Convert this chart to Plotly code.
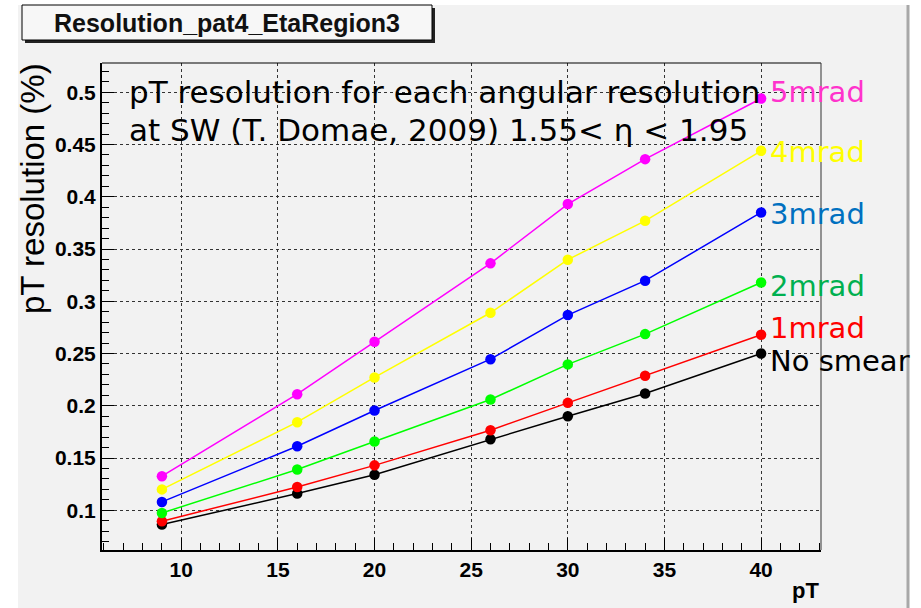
import plotly.graph_objects as go

# pT points and resolution (%) for each angular smearing
pt = [9, 16, 20, 26, 30, 34, 40]
res_nosmear = [0.0863, 0.116, 0.134, 0.168, 0.190, 0.2118, 0.250]
res_1mrad = [0.0895, 0.1223, 0.143, 0.1766, 0.2028, 0.2287, 0.268]
res_2mrad = [0.0974, 0.139, 0.1658, 0.206, 0.2396, 0.2686, 0.318]
res_3mrad = [0.108, 0.1613, 0.1955, 0.2446, 0.2868, 0.3197, 0.385]
res_4mrad = [0.120, 0.1843, 0.2271, 0.289, 0.3398, 0.377, 0.444]
res_5mrad = [0.1326, 0.2111, 0.2612, 0.3363, 0.393, 0.436, 0.494]

series_names = ["No smear", "1mrad", "2mrad", "3mrad", "4mrad", "5mrad"]
series_values = [res_nosmear, res_1mrad, res_2mrad, res_3mrad, res_4mrad, res_5mrad]
line_colors = ["#000000", "#ff0000", "#00ff00", "#0000ff", "#ffff00", "#ff00ff"]
label_colors = ["#000000", "#ff0000", "#00b050", "#0070c0", "#ffff00", "#ff33cc"]
label_baselines = [371, 338, 296, 224, 162, 102]

x_ticks = [10, 15, 20, 25, 30, 35, 40]
y_ticks = [0.1, 0.15, 0.2, 0.25, 0.3, 0.35, 0.4, 0.45, 0.5]
y_ticktext = ["0.1", "0.15", "0.2", "0.25", "0.3", "0.35", "0.4", "0.45", "0.5"]

# frame geometry in pixels
FIG_W, FIG_H = 921, 608
L, T, W, H = 102, 63, 719, 487


def px(x):
    return (x - L) / W


def py(y):
    return (T + H - y) / H


fig = go.Figure()
for name, vals, col in zip(series_names, series_values, line_colors):
    fig.add_trace(go.Scatter(
        x=pt, y=vals, name=name, mode="lines+markers",
        line=dict(color=col, width=1.5),
        marker=dict(size=10.5, color=col),
        showlegend=False,
    ))

tick_font = dict(family="Liberation Sans", size=21, color="black", weight="bold")
axis_common = dict(
    ticks="inside", ticklen=12, tickwidth=1, tickcolor="black",
    showline=True, linewidth=2, linecolor="black",
    showgrid=True, gridcolor="#333333", griddash="dot", gridwidth=1,
    zeroline=False, tickfont=tick_font,
)

fig.update_layout(
    width=FIG_W, height=FIG_H,
    margin=dict(l=L, r=FIG_W - L - W, t=T, b=FIG_H - T - H),
    paper_bgcolor="white", plot_bgcolor="#f2f2f2",
    xaxis=dict(range=[5.9, 43.1], tickvals=x_ticks,
               minor=dict(dtick=1, tick0=0, ticks="inside", ticklen=7,
                          tickcolor="black", showgrid=False),
               **axis_common),
    yaxis=dict(range=[0.062, 0.528], tickvals=y_ticks, ticktext=y_ticktext,
               minor=dict(dtick=0.01, tick0=0.1, ticks="inside", ticklen=7,
                          tickcolor="black", showgrid=False),
               **axis_common),
)

shapes = [
    # pad background
    dict(type="rect", xref="paper", yref="paper", layer="below",
         x0=px(18), x1=px(907), y0=py(5), y1=py(FIG_H + 5),
         fillcolor="#f2f2f2", line=dict(width=0)),
    # pad right border
    dict(type="line", xref="paper", yref="paper",
         x0=px(908), x1=px(908), y0=py(5), y1=py(FIG_H + 5),
         line=dict(color="#a8a8a8", width=3)),
    # frame top and right
    dict(type="line", xref="paper", yref="paper",
         x0=0, x1=1, y0=1, y1=1, line=dict(color="black", width=1)),
    dict(type="line", xref="paper", yref="paper",
         x0=1, x1=1, y0=0, y1=1, line=dict(color="#333333", width=1)),
    # title box shadow and box
    dict(type="rect", xref="paper", yref="paper",
         x0=px(25), x1=px(435), y0=py(43), y1=py(8),
         fillcolor="#222222", line=dict(width=0)),
    dict(type="rect", xref="paper", yref="paper",
         x0=px(22), x1=px(432), y0=py(40), y1=py(5),
         fillcolor="#f7f7f7", line=dict(color="black", width=1)),
]
fig.update_layout(shapes=shapes)

text_font = dict(family="DejaVu Sans", size=31, color="black")
annotations = [
    dict(text="Resolution_pat4_EtaRegion3", x=px(227), y=py(23),
         font=dict(family="Liberation Sans", size=25, color="#111111", weight="bold")),
    dict(text="pT resolution (%)", x=px(33), y=py(189), textangle=-90,
         font=dict(family="Liberation Sans", size=33, color="black")),
    dict(text="pT", x=px(821), y=py(590), xanchor="right",
         font=dict(family="Liberation Sans", size=22, color="black", weight="bold")),
    dict(text="pT resolution for each angular resolution", x=px(127), y=py(92),
         xanchor="left", font=text_font),
    dict(text="at SW (T. Domae, 2009) 1.55< η < 1.95", x=px(127), y=py(130),
         xanchor="left", font=text_font),
]
for name, col, base in zip(series_names, label_colors, label_baselines):
    annotations.append(dict(text=name, x=px(769), y=py(base - 10), xanchor="left",
                            borderpad=0,
                            font=dict(family="DejaVu Sans", size=29, color=col)))

for a in annotations:
    a.update(xref="paper", yref="paper", showarrow=False,
             xanchor=a.get("xanchor", "center"),
             yanchor=a.get("yanchor", "middle"))
fig.update_layout(annotations=annotations)

fig.write_html("out.html")
